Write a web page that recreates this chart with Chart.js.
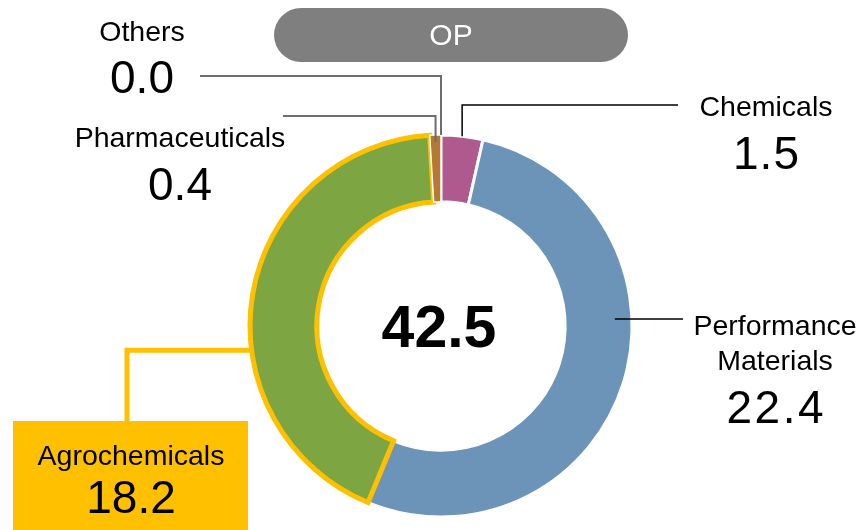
<!DOCTYPE html>
<html><head><meta charset="utf-8">
<script src="https://cdn.jsdelivr.net/npm/chart.js@4/dist/chart.umd.min.js"></script>
<style>html,body{margin:0;padding:0;background:#fff}canvas{display:block}</style>
</head><body>
<canvas id="c" width="864" height="530"></canvas>
<script>
// ---- data ----
const categories = ['Chemicals', 'Performance Materials', 'Agrochemicals', 'Pharmaceuticals', 'Others'];
const labelLines = [['Chemicals'], ['Performance', 'Materials'], ['Agrochemicals'], ['Pharmaceuticals'], ['Others']];
const opValues = [1.5, 22.4, 18.2, 0.4, 0.0];
const sliceColors = ['#AE5A8E', '#6C94B9', '#7DA643', '#B57934', '#A5A5A5'];
const chartTitle = 'OP';

const FONT = '"Liberation Sans", Arial, Helvetica, sans-serif';
const GOLD = '#FFC000';

function arcPoint(arc, angle, r) {
  return { x: arc.x + r * Math.cos(angle), y: arc.y + r * Math.sin(angle) };
}
function midAngle(arc) { return (arc.startAngle + arc.endAngle) / 2; }

const labelsPlugin = {
  id: 'labelsPlugin',
  afterDraw(chart) {
    const ctx = chart.ctx;
    const arcs = chart.getDatasetMeta(0).data;
    const cx = arcs[0].x, cy = arcs[0].y, R = arcs[0].outerRadius;
    const total = opValues.reduce((a, b) => a + b, 0);
    ctx.save();

    // Title pill
    ctx.fillStyle = '#7F7F7F';
    ctx.beginPath();
    ctx.roundRect(274, 8, 354, 54, 27);
    ctx.fill();
    ctx.fillStyle = '#FFFFFF';
    ctx.font = '30px ' + FONT;
    ctx.textAlign = 'center';
    ctx.textBaseline = 'alphabetic';
    ctx.fillText(chartTitle, 451, 45);

    // Center total
    ctx.fillStyle = '#000';
    ctx.font = 'bold 59px ' + FONT;
    ctx.fillText(total.toFixed(1), cx - 2, cy + 21);

    function poly(points, color, width) {
      ctx.strokeStyle = color;
      ctx.lineWidth = width;
      ctx.lineJoin = 'miter';
      ctx.lineCap = 'butt';
      ctx.beginPath();
      points.forEach((p, i) => i ? ctx.lineTo(p.x, p.y) : ctx.moveTo(p.x, p.y));
      ctx.stroke();
    }
    function label(i, x, baselines, valueBaseline, spacing) {
      ctx.fillStyle = '#000';
      ctx.textAlign = 'center';
      ctx.font = '28.5px ' + FONT;
      ctx.letterSpacing = '0px';
      labelLines[i].forEach((t, k) => ctx.fillText(t, x, baselines[k]));
      ctx.font = '46px ' + FONT;
      ctx.letterSpacing = (spacing || 0) + 'px';
      ctx.fillText(opValues[i].toFixed(1), x + (spacing || 0) / 2, valueBaseline);
      ctx.letterSpacing = '0px';
    }

    // Chemicals
    let p = arcPoint(arcs[0], midAngle(arcs[0]), R);
    poly([p, { x: p.x, y: 105 }, { x: 678, y: 105 }], '#000', 1.5);
    label(0, 766, [116], 169, 1);

    // Performance Materials
    p = arcPoint(arcs[1], -0.04, R - 17);
    poly([p, { x: 683, y: p.y }], '#000', 1.5);
    label(1, 775, [335, 370], 423, 2.5);

    // Pharmaceuticals
    p = arcPoint(arcs[3], midAngle(arcs[3]), R - 7);
    poly([p, { x: p.x, y: 116 }, { x: 283, y: 116 }], '#6E6E6E', 2);
    label(3, 180, [147], 200, 0);

    // Others
    p = arcPoint(arcs[4], arcs[4].startAngle, R);
    poly([p, { x: p.x, y: 76 }, { x: 200, y: 76 }], '#6E6E6E', 2);
    label(4, 142, [41], 93, 0);

    // Agrochemicals (highlighted)
    const a = Math.PI - Math.asin(24 / R);
    p = arcPoint(arcs[2], a, R + 1);
    poly([p, { x: 127, y: p.y }, { x: 127, y: 423 }], GOLD, 5);
    ctx.fillStyle = GOLD;
    ctx.fillRect(13, 421, 235, 109);
    label(2, 131, [465], 513, 0);

    ctx.restore();
  }
};

new Chart(document.getElementById('c'), {
  type: 'doughnut',
  data: {
    labels: categories,
    datasets: [{
      data: opValues,
      backgroundColor: sliceColors,
      borderColor: ['#FFFFFF', '#FFFFFF', GOLD, '#FFFFFF', '#FFFFFF'],
      borderWidth: [3, 3, 5, 1.5, 0],
      borderJoinStyle: 'miter',
      borderAlign: 'center',
      radius: 191,
    }]
  },
  options: {
    responsive: false,
    animation: false,
    events: [],
    cutout: '65%',
    rotation: 0,
    layout: { padding: { left: 18, right: 0, top: 130, bottom: 8 } },
    plugins: { legend: { display: false }, tooltip: { enabled: false } }
  },
  plugins: [labelsPlugin]
});
</script>
</body></html>
